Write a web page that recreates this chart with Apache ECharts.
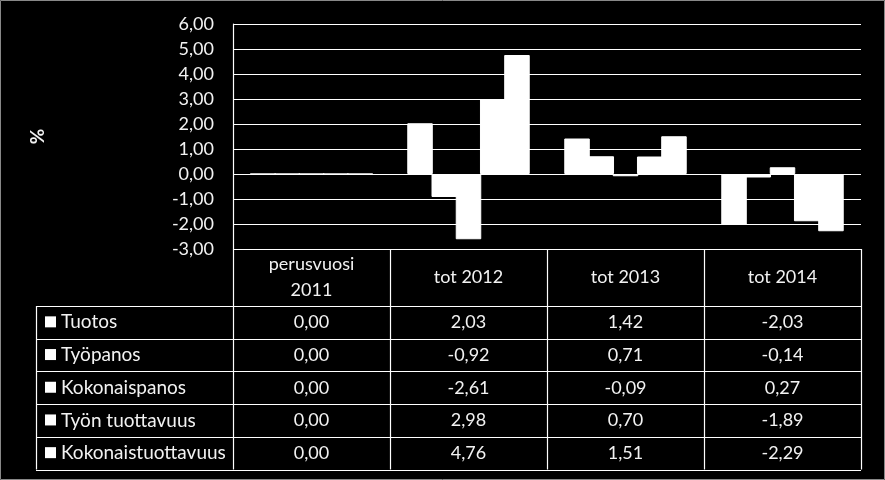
<!DOCTYPE html>
<html><head><meta charset="utf-8">
<script src="https://cdn.jsdelivr.net/npm/echarts@6/dist/echarts.min.js"></script>
<style>html,body{margin:0;padding:0;background:#000;overflow:hidden}#c{width:885px;height:480px;}</style>
</head><body><div id="c"></div>
<script>
// ---- data ----
const categories = ['perusvuosi\n2011', 'tot 2012', 'tot 2013', 'tot 2014'];
const seriesNames = ['Tuotos', 'Työpanos', 'Kokonaispanos', 'Työn tuottavuus', 'Kokonaistuottavuus'];
const tuotos = [0.00, 2.03, 1.42, -2.03];
const tyopanos = [0.00, -0.92, 0.71, -0.14];
const kokonaispanos = [0.00, -2.61, -0.09, 0.27];
const tyonTuottavuus = [0.00, 2.98, 0.70, -1.89];
const kokonaistuottavuus = [0.00, 4.76, 1.51, -2.29];
const yMin = -3, yMax = 6, yInterval = 1;
const yName = '%';

const seriesData = [tuotos, tyopanos, kokonaispanos, tyonTuottavuus, kokonaistuottavuus];
const fmt = v => v.toFixed(2).replace('.', ',');

// ---- layout ----
const W = 885, H = 480;
const gL = 233, gR = 861, gT = 24, gB = 249;
const headerBottom = 306;
const rowH = 32.7;
const tableLeft = 36;
const FONT = 'Lato, "Open Sans", sans-serif';
const TXT = '#f2f2f2';

const chart = echarts.init(document.getElementById('c'), null, {renderer: 'canvas', width: W, height: H});

const colW = (gR - gL) / categories.length;
const graphics = [];
const line = (x1, y1, x2, y2) => graphics.push({type: 'line', shape: {x1, y1, x2, y2}, style: {stroke: '#ffffff', lineWidth: 1.2}, z: 10});

// frame
graphics.push({type: 'rect', shape: {x: 0.5, y: 0.5, width: W - 1, height: H - 1}, style: {fill: 'none', stroke: '#888', lineWidth: 1}});

const tableBottom = headerBottom + rowH * seriesNames.length;
// verticals
for (let i = 0; i <= categories.length; i++) {
  const x = Math.round(gL + i * colW) + 0.5;
  line(x, gB, x, tableBottom);
}
line(tableLeft + 0.5, headerBottom, tableLeft + 0.5, tableBottom);
// horizontals
line(gL, gB + 0.5, gR, gB + 0.5);
for (let r = 0; r <= seriesNames.length; r++) {
  const y = Math.round(headerBottom + r * rowH) + 0.5;
  line(tableLeft, y, gR, y);
}
// row labels & values
seriesNames.forEach((name, r) => {
  const cy = headerBottom + (r + 0.5) * rowH;
  graphics.push({type: 'rect', shape: {x: 45, y: cy - 6, width: 11, height: 11}, style: {fill: '#ffffff'}});
  graphics.push({type: 'text', x: 61, y: cy, style: {text: name, fill: TXT, font: '19px ' + FONT, textVerticalAlign: 'middle', textAlign: 'left'}});
  seriesData[r].forEach((v, c) => {
    graphics.push({type: 'text', x: gL + (c + 0.5) * colW, y: cy, style: {text: fmt(v), fill: TXT, font: '18px ' + FONT, textVerticalAlign: 'middle', textAlign: 'center'}});
  });
});

chart.setOption({
  backgroundColor: '#000000',
  animation: false,
  grid: {left: gL, right: W - gR, top: gT, bottom: H - gB, containLabel: false},
  xAxis: {
    type: 'category', data: categories, position: 'bottom',
    axisLine: {show: false, onZero: false},
    axisTick: {show: false},
    axisLabel: {color: TXT, fontFamily: FONT, fontSize: 18, margin: 28, verticalAlign: 'middle', lineHeight: 26, interval: 0}
  },
  yAxis: {
    type: 'value', min: yMin, max: yMax, interval: yInterval,
    name: yName, nameLocation: 'middle', nameGap: 186, nameRotate: 90,
    nameTextStyle: {color: TXT, fontFamily: FONT, fontSize: 19, fontWeight: 'bold'},
    axisLine: {show: true, lineStyle: {color: '#ffffff', width: 1.2}},
    axisTick: {show: false},
    axisLabel: {color: TXT, fontFamily: FONT, fontSize: 18, margin: 19, formatter: fmt},
    splitLine: {show: true, lineStyle: {color: '#ffffff', width: 1.2}}
  },
  series: seriesNames.map((n, i) => ({
    name: n, type: 'bar', data: seriesData[i],
    barGap: '-5%', barCategoryGap: '22%',
    itemStyle: {color: '#ffffff', borderColor: '#ffffff', borderWidth: 1}
  })),
  graphic: graphics
});
</script>
</body></html>
